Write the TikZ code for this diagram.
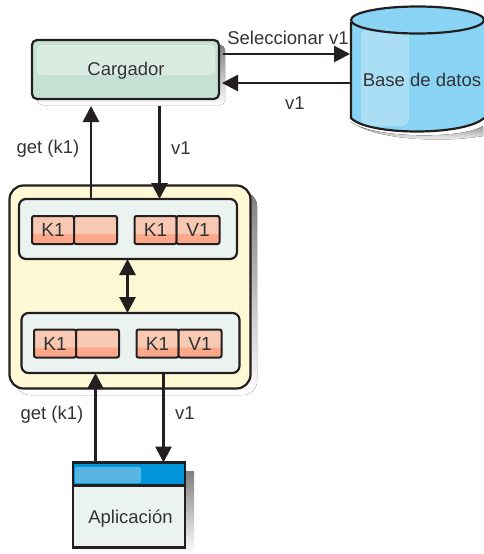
\documentclass[tikz,border=0pt]{standalone}
\usepackage{fontspec}
\setmainfont{Liberation Sans}
\usetikzlibrary{arrows.meta,calc}
\definecolor{ink}{HTML}{231F20}
\definecolor{txt}{HTML}{333333}
\definecolor{shade}{HTML}{C9CACC}
\definecolor{loaderfill}{HTML}{C5E1D3}
\definecolor{loaderhi}{HTML}{DAEBE1}
\definecolor{dbfill}{HTML}{89D4F5}
\definecolor{dbhi}{HTML}{A9DEF5}
\definecolor{cachefill}{HTML}{FEF8D5}
\definecolor{panelfill}{HTML}{EBF3F1}
\definecolor{celltop}{HTML}{F7C8B2}
\definecolor{celllow}{HTML}{FBA88B}
\definecolor{barfill}{HTML}{0095DA}
\definecolor{barhi}{HTML}{57B5E4}
\tikzset{
  x=1pt,y=-1pt,
  box/.style={draw=ink,line width=2.2pt,anchor=north west,inner sep=0pt,outer sep=0pt},
  lbl/.style={text=txt,font=\fontsize{18.5}{20}\selectfont,inner sep=0pt},
  conn/.style={draw=ink,line width=2.8pt,-{Triangle[length=16pt,width=16pt]}},
  twoway/.style={draw=ink,line width=2.8pt,{Triangle[length=16pt,width=16pt]}-{Triangle[length=16pt,width=16pt]}},
  cellbox/.style={box,line width=2pt,rounded corners=2pt,minimum height=28pt,text=txt,
    font=\fontsize{19}{20}\selectfont,
    path picture={\fill[celltop] (path picture bounding box.north west) rectangle (path picture bounding box.south east);
      \fill[celllow] ($(path picture bounding box.south west)+(0,10pt)$) rectangle (path picture bounding box.south east);}},
}
\newcommand{\shadowbox}[5]{\fill[shade,rounded corners=#5] (#1,#2) rectangle (#3,#4);}
\begin{document}
\begin{tikzpicture}
\useasboundingbox (0,0) rectangle (483,554);
% Cargador
\shadowbox{37}{45}{225}{105}{5pt}
\node[box,fill=loaderfill,rounded corners=5pt,minimum width=187pt,minimum height=59pt] (loader) at (32,40) {};
\fill[loaderhi,rounded corners=5pt] (37,45) rectangle (215,75);
\node[lbl] (loadertext) at (126,71) {Cargador};
% Base de datos
\fill[shade] (351,122) .. controls (372,138) and (460,140) .. (483,126) -- (483,136) .. controls (450,142) and (380,142) .. (351,122) -- cycle;
\path[fill=dbfill] (351,22) -- (351,118) .. controls (368,136) and (465,136) .. (484,118) -- (484,22) -- cycle;
\fill[dbhi,rounded corners=8pt] (361,28) rectangle (409,126);
\draw[ink,line width=2.2pt] (351,22) -- (351,118) .. controls (368,136) and (465,136) .. (484,118);
\path[draw=ink,line width=2.2pt,fill=dbfill] (417.5,20) ellipse [x radius=66.5pt,y radius=13.5pt];
\node[lbl] (db) at (422,80) {Base de datos};
% Cache
\shadowbox{16}{192}{257}{395}{14pt}
\node[box,fill=cachefill,rounded corners=14pt,minimum width=241pt,minimum height=203pt] (cache) at (9.5,185.5) {};
\node[box,fill=panelfill,rounded corners=7pt,minimum width=218pt,minimum height=60pt] (panelA) at (19,199) {};
\node[box,fill=panelfill,rounded corners=7pt,minimum width=218pt,minimum height=60pt] (panelB) at (21.5,313) {};
% Celdas
\node[cellbox,minimum width=42pt] (a1) at (32,216) {K1};
\node[cellbox,minimum width=43pt] (a2) at (74,216) {};
\node[cellbox,minimum width=42pt] (a3) at (134.5,216) {K1};
\node[cellbox,minimum width=43pt] (a4) at (176.5,216) {V1};
\node[cellbox,minimum width=42pt] (b1) at (34,329.5) {K1};
\node[cellbox,minimum width=43pt] (b2) at (76,329.5) {};
\node[cellbox,minimum width=42pt] (b3) at (136.5,329.5) {K1};
\node[cellbox,minimum width=43pt] (b4) at (178.5,329.5) {V1};
% Aplicacion
\fill[shade] (81,471) rectangle (194,554);
\node[box,fill=panelfill,minimum width=112pt,minimum height=85pt] (app) at (73,462.5) {};
\node[box,fill=barfill,minimum width=112pt,minimum height=23pt] (bar) at (73,462.5) {};
\fill[barhi,rounded corners=1.5pt] (75,467) rectangle (141,483);
\node[lbl] (apptext) at (130.5,519) {Aplicación};
% Conectores
\coordinate (upA) at (91,0);
\coordinate (downA) at (159.5,0);
\coordinate (mid) at (127.5,0);
\coordinate (upB) at (95.5,0);
\coordinate (downB) at (163.5,0);
\coordinate (selY) at (0,54);
\coordinate (retY) at (0,83);
\coordinate (dbL) at (350,0);
\coordinate (loaderR) at (222,0);
\draw[conn,shorten >=7pt] (panelA.north -| upA) -- (loader.south -| upA);
\draw[conn,shorten <=7pt] (loader.south -| downA) -- (panelA.north -| downA);
\draw[conn,shorten <=4pt] (loader.east |- selY) -- (dbL |- selY);
\draw[twoway] (panelA.south -| mid) -- (panelB.north -| mid);
\draw[conn] (bar.north -| upB) -- (panelB.south -| upB);
\draw[conn] (panelB.south -| downB) -- (bar.north -| downB);
\draw[conn] (dbL |- retY) -- (loaderR |- retY);
% Etiquetas
\node[lbl] (sel) at (288,38) {Seleccionar v1};
\node[lbl] (v1a) at (295,103) {v1};
\node[lbl] (g1) at (48,149) {get (k1)};
\node[lbl] (v1b) at (181,148) {v1};
\node[lbl] (g2) at (52,415) {get (k1)};
\node[lbl] (v1c) at (185,413) {v1};
\end{tikzpicture}
\end{document}
